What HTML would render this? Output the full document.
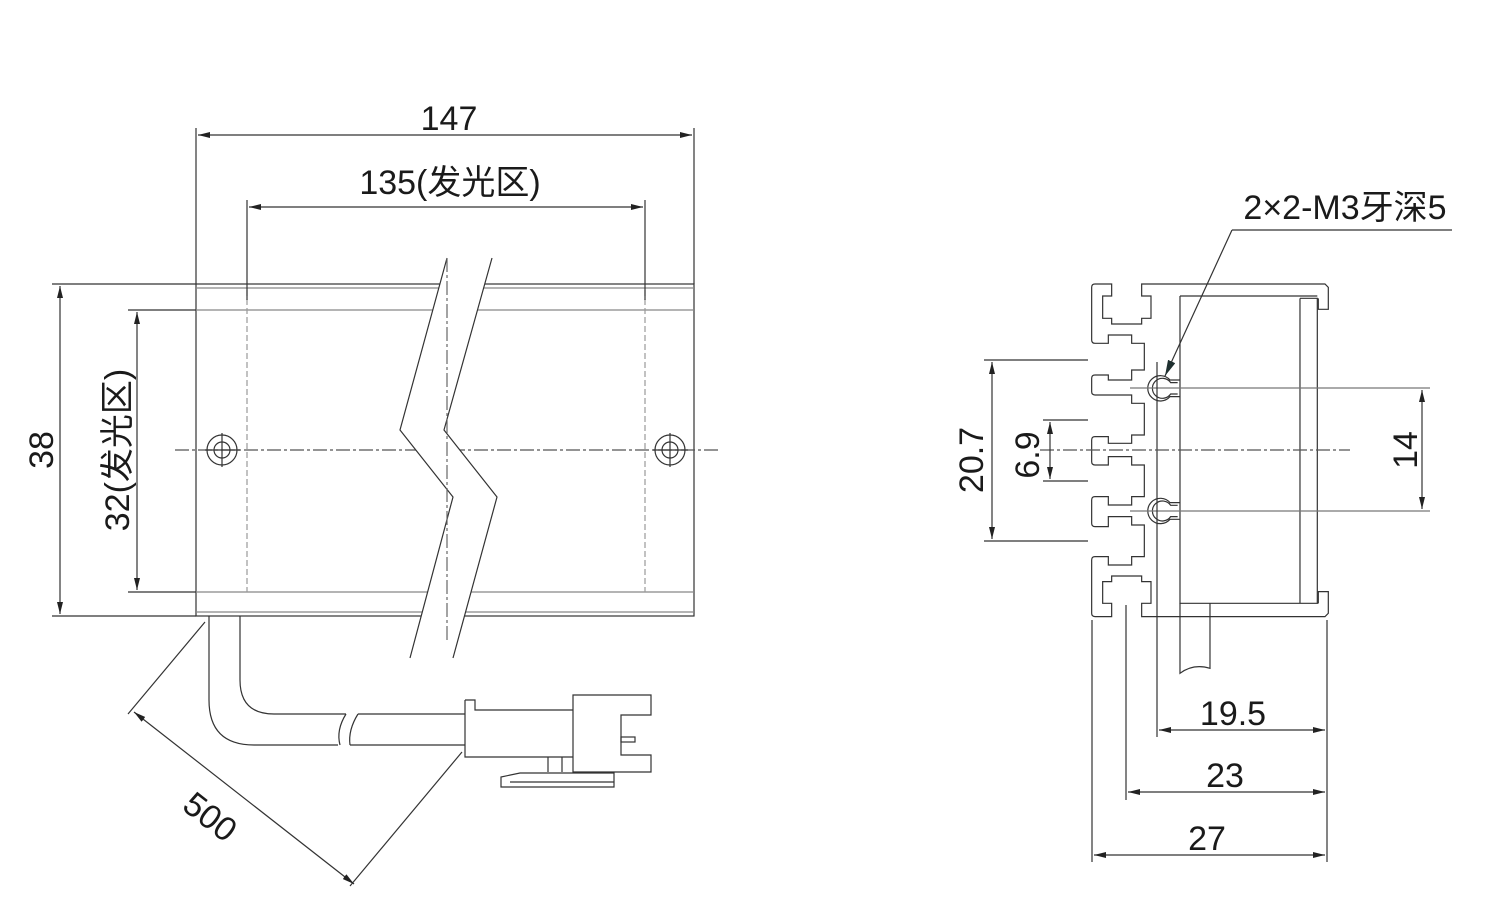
<!DOCTYPE html>
<html><head><meta charset="utf-8"><style>
html,body{margin:0;padding:0;background:#fff}
svg{display:block}
text{font-family:"Liberation Sans","Noto Sans CJK SC",sans-serif;fill:#1a1a1a}
</style></head><body>
<svg width="1495" height="913" viewBox="0 0 1495 913" xmlns="http://www.w3.org/2000/svg">
<defs>
<marker id="a" viewBox="0 0 12 6" refX="12" refY="3" markerWidth="12" markerHeight="6" markerUnits="userSpaceOnUse" orient="auto-start-reverse"><path d="M0,0 L12,3 L0,6 Z" fill="#222"/></marker>
<marker id="b" viewBox="0 0 16 8" refX="16" refY="4" markerWidth="16" markerHeight="8" markerUnits="userSpaceOnUse" orient="auto"><path d="M0,0 L16,4 L0,8 Z" fill="#1f3030"/></marker>
</defs>
<g fill="none" stroke="#333" stroke-width="1.2">
<rect x="196" y="284" width="498" height="332"/>
<line x1="196" y1="288" x2="694" y2="288" stroke="#888"/>
<line x1="196" y1="310" x2="694" y2="310" stroke="#888"/>
<line x1="196" y1="592" x2="694" y2="592" stroke="#888"/>
<line x1="196" y1="612" x2="694" y2="612" stroke="#888"/>
<line x1="247" y1="290" x2="247" y2="592" stroke="#999" stroke-dasharray="6,3"/>
<line x1="645" y1="290" x2="645" y2="592" stroke="#999" stroke-dasharray="6,3"/>
<line x1="175" y1="450" x2="720" y2="450" stroke="#555" stroke-dasharray="14,3,3,3"/>
<circle cx="222" cy="450" r="15"/><circle cx="222" cy="450" r="8"/>
<circle cx="670" cy="450" r="15"/><circle cx="670" cy="450" r="8"/>
<line x1="205" y1="450" x2="240" y2="450"/><line x1="222" y1="433" x2="222" y2="467"/>
<line x1="653" y1="450" x2="688" y2="450"/><line x1="670" y1="433" x2="670" y2="467"/>
<polygon points="447,258 400,430 453,497 410,658 453,658 497,497 444,430 492,258" fill="#fff" stroke="none"/>
<polyline points="447,258 400,430 453,497 410,658"/>
<polyline points="492,258 444,430 497,497 453,658"/>
<line x1="447" y1="258" x2="447" y2="640" stroke="#666" stroke-dasharray="14,3,3,3"/>
<line x1="196" y1="128" x2="196" y2="284"/><line x1="694" y1="128" x2="694" y2="284"/>
<line x1="198" y1="135" x2="692" y2="135" marker-start="url(#a)" marker-end="url(#a)"/>
<line x1="247" y1="200" x2="247" y2="300"/><line x1="645" y1="200" x2="645" y2="300"/>
<line x1="249" y1="207" x2="643" y2="207" marker-start="url(#a)" marker-end="url(#a)"/>
<line x1="52" y1="284" x2="196" y2="284"/><line x1="52" y1="616" x2="196" y2="616"/>
<line x1="60" y1="286" x2="60" y2="614" marker-start="url(#a)" marker-end="url(#a)"/>
<line x1="128" y1="310" x2="196" y2="310"/><line x1="128" y1="592" x2="196" y2="592"/>
<line x1="137" y1="312" x2="137" y2="590" marker-start="url(#a)" marker-end="url(#a)"/>
<path d="M209,616 L209,700 Q209,745 254,745 L338,745"/>
<path d="M240,616 L240,680 Q240,714 274,714 L346,714"/>
<path d="M350,745 L465,745 M358,714 L465,714"/>
<path d="M346,714 Q336,730 340,745 M358,714 Q348,730 350,745"/>
<path d="M465,700 L475,700 L475,710 L573,710 M465,700 L465,757 L573,757"/>
<path d="M573,695 L651,695 L651,715 L621,715 L621,755 L651,755 L651,772 L573,772 Z"/>
<rect x="621" y="737" width="14" height="5"/>
<path d="M548,757 L548,772 M562,757 L562,772"/>
<path d="M614,772 L614,787 L501,787 L501,777 L520,773 L614,773"/>
<line x1="510" y1="782" x2="614" y2="782"/>
<line x1="205" y1="622" x2="128" y2="714"/>
<line x1="462" y1="752" x2="350" y2="886"/>
<line x1="134" y1="712" x2="354" y2="884" marker-start="url(#a)" marker-end="url(#a)"/>
<g transform="translate(1080,270) scale(0.3333)" stroke-width="3.6">
<path d="M45,42 L95,42 L95,78 L68,78 L68,145 L95,145 L95,162 L185,162 L185,145 L213,145 L213,78 L185,78 L185,42 L735,42 L745,52 L745,118 L715,118 L715,85"/>
<path d="M45,42 Q35,42 35,52 L35,210 Q35,220 45,220 L85,220 L85,195 L155,195 L155,220 L193,220 L193,300 L155,300 L155,330 L85,330 L85,315 L45,315 Q35,315 35,325 L35,365 Q35,375 45,375 L155,375 L155,400 L193,400 L193,495 L155,495 L155,520 L85,520 L85,500 L45,500 Q35,500 35,510 L35,575 Q35,585 45,585 L85,585 L85,560 L155,560 L155,585 L193,585 L193,680 L155,680 L155,705 L85,705 L85,680 L45,680 Q35,680 35,690 L35,760 Q35,770 45,770 L85,770 L85,740 L155,740 L155,765 L193,765 L193,860 L155,860 L155,885 L85,885 L85,860 L45,860 Q35,860 35,870 L35,1030 Q35,1040 45,1040 L95,1040 L95,1000 L68,1000 L68,935 L95,935 L95,918 L185,918 L185,935 L213,935 L213,1000 L185,1000 L185,1040 L735,1040 L745,1030 L745,965 L715,965 L715,1000"/>
<path d="M300,78 L712,78 M300,78 L300,1000 L715,1000 M660,85 L712,85 L712,1000 M660,85 L660,1000"/>
<path d="M300,1000 L300,1210 Q340,1180 390,1195 L390,1000"/>
<path d="M300,330 L270,330 A38,38 0 1 0 270,380 L300,380 M293,338 L272,338 A30,30 0 1 0 272,372 L293,372"/>
<path d="M300,698 L270,698 A38,38 0 1 0 270,748 L300,748 M293,706 L272,706 A30,30 0 1 0 272,740 L293,740"/>
</g>
<line x1="1130" y1="388" x2="1430" y2="388" stroke="#777"/>
<line x1="1130" y1="511" x2="1430" y2="511" stroke="#777"/>
<line x1="1157" y1="362" x2="1157" y2="737"/>
<line x1="1040" y1="450" x2="1350" y2="450" stroke="#555" stroke-dasharray="14,3,3,3"/>
<line x1="984" y1="360" x2="1088" y2="360"/><line x1="984" y1="541" x2="1088" y2="541"/>
<line x1="992" y1="362" x2="992" y2="539" marker-start="url(#a)" marker-end="url(#a)"/>
<line x1="1043" y1="420" x2="1088" y2="420"/><line x1="1043" y1="481" x2="1088" y2="481"/>
<line x1="1050" y1="422" x2="1050" y2="479" marker-start="url(#a)" marker-end="url(#a)"/>
<line x1="1422" y1="390" x2="1422" y2="509" marker-start="url(#a)" marker-end="url(#a)"/>
<line x1="1092" y1="620" x2="1092" y2="862"/><line x1="1126" y1="605" x2="1126" y2="800"/>
<line x1="1327" y1="620" x2="1327" y2="862"/>
<line x1="1159" y1="730" x2="1325" y2="730" marker-start="url(#a)" marker-end="url(#a)"/>
<line x1="1128" y1="792" x2="1325" y2="792" marker-start="url(#a)" marker-end="url(#a)"/>
<line x1="1094" y1="855" x2="1325" y2="855" marker-start="url(#a)" marker-end="url(#a)"/>
<line x1="1232" y1="230" x2="1452" y2="230"/>
<line x1="1232" y1="230" x2="1165" y2="376" marker-end="url(#b)"/>
</g>
<g font-size="34">
<text x="449" y="130" text-anchor="middle">147</text>
<text x="450" y="194" text-anchor="middle">135(发光区)</text>
<text transform="translate(53,450) rotate(-90)" text-anchor="middle">38</text>
<text transform="translate(129,450) rotate(-90)" text-anchor="middle">32(发光区)</text>
<text transform="translate(203,826) rotate(38)" text-anchor="middle">500</text>
<text x="1345" y="219" text-anchor="middle">2×2-M3牙深5</text>
<text transform="translate(983,460) rotate(-90)" text-anchor="middle">20.7</text>
<text transform="translate(1039,455) rotate(-90)" text-anchor="middle">6.9</text>
<text transform="translate(1417,450) rotate(-90)" text-anchor="middle">14</text>
<text x="1233" y="725" text-anchor="middle">19.5</text>
<text x="1225" y="787" text-anchor="middle">23</text>
<text x="1207" y="850" text-anchor="middle">27</text>
</g>
</svg>
</body></html>
